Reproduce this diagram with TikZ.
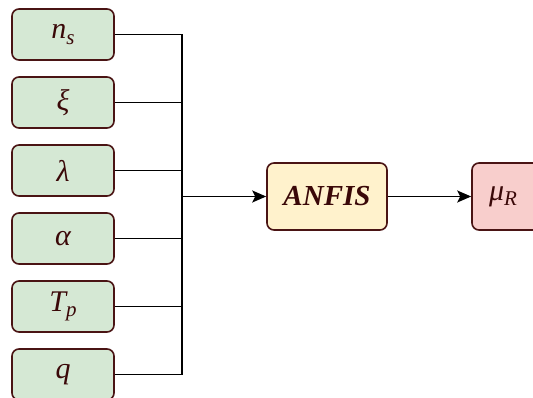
\documentclass[tikz,border=0pt]{standalone}
\usepackage{fontspec}
\setmainfont{Liberation Serif}
\usetikzlibrary{arrows.meta}
\definecolor{edgebrown}{HTML}{4A1414}
\definecolor{inputfill}{HTML}{D5E8D4}
\definecolor{corefill}{HTML}{FFF2CC}
\definecolor{outfill}{HTML}{F8CECC}
\definecolor{textbrown}{HTML}{3A0808}
\newcommand{\lowidx}[1]{\raisebox{-0.4ex}{\fontsize{21}{21}\selectfont\itshape #1}}
\tikzset{
  box/.style={draw=edgebrown, line width=1.6pt, rounded corners=7pt, inner sep=0pt,
    font=\fontsize{30}{30}\selectfont\itshape, text=textbrown},
  inbox/.style={box, fill=inputfill, minimum width=102pt, minimum height=51pt},
  wire/.style={line width=1.7pt, black},
  arrowwire/.style={wire, -{Stealth[length=14pt,width=12pt,inset=3pt]}}
}
\begin{document}
\begin{tikzpicture}[x=1pt, y=-1pt]
\useasboundingbox (0,0) rectangle (533,398);
% input parameters
\node[inbox] (ns)  at (63,34.5)  {n\lowidx{s}};
\node[inbox] (xi)  at (63,102.5) {ξ};
\node[inbox] (lam) at (63,170.5) {λ};
\node[inbox] (alp) at (63,238.5) {α};
\node[inbox] (tp)  at (63,306.5) {T\lowidx{p}};
\node[inbox] (q)   at (63,374.5) {q};
% model and output
\node[box, fill=corefill, minimum width=120pt, minimum height=67pt,
      font=\fontsize{29}{29}\selectfont\bfseries\itshape] (anfis) at (327,196.5) {ANFIS};
\node[box, fill=outfill, minimum width=68pt, minimum height=67pt] (mu) at (506,196.5) {};
\node[font=\fontsize{30}{30}\selectfont\itshape, text=textbrown] (mutxt) at (503,196.5) {μ\lowidx{R}};
% collecting bus
\coordinate (bustop) at (182,34.5);
\coordinate (busbot) at (182,374.5);
\draw[wire] (bustop) -- (busbot);
\foreach \n in {ns,xi,lam,alp,tp,q}
  \draw[wire] (\n.east) -- (\n.east -| bustop);
\draw[arrowwire] (anfis.west -| bustop) -- (anfis.west);
\draw[arrowwire] (anfis.east) -- (mu.west);
\end{tikzpicture}
\end{document}
